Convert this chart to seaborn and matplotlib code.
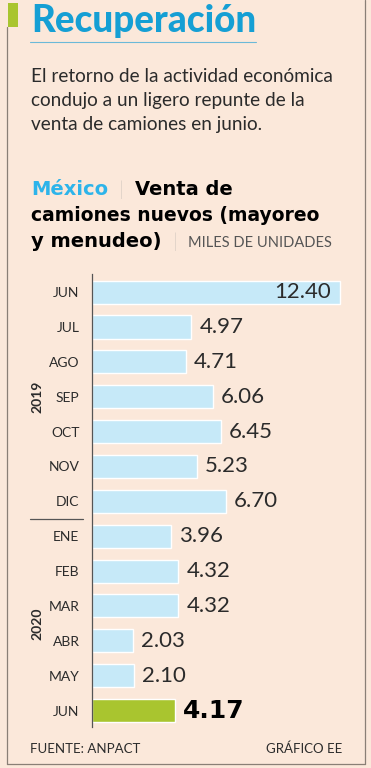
import pandas as pd
import seaborn as sns
import matplotlib.pyplot as plt
import matplotlib.transforms as mtransforms
from matplotlib.patches import Rectangle

# Data
months = ["JUN", "JUL", "AGO", "SEP", "OCT", "NOV", "DIC",
          "ENE", "FEB", "MAR", "ABR", "MAY", "JUN"]
years = ["2019"] * 7 + ["2020"] * 6
sales = [12.40, 4.97, 4.71, 6.06, 6.45, 5.23, 6.70,
         3.96, 4.32, 4.32, 2.03, 2.10, 4.17]
value_labels = ["12.40", "4.97", "4.71", "6.06", "6.45", "5.23", "6.70",
                "3.96", "4.32", "4.32", "2.03", "2.10", "4.17"]

BG = "#fbe8da"
BLUE_BAR = "#c6e9f8"
GREEN = "#a9c52f"
TITLE_BLUE = "#159fd4"
MEX_BLUE = "#2db4ea"
DARK = "#2b2b2b"
GRAY = "#555555"

sns.set_theme(style="white")
plt.rcParams["font.family"] = ["Lato", "DejaVu Sans"]

W, H = 371, 768
fig = plt.figure(figsize=(W / 100, H / 100), dpi=100, facecolor=BG)


def fx(x):
    return x / W


def fy(y):
    return 1 - y / H


# frame around the graphic
fig.add_artist(plt.Line2D([fx(7), fx(7)], [fy(27), fy(764)], color="#8a7f76", lw=0.9))
fig.add_artist(plt.Line2D([fx(365), fx(365)], [fy(0), fy(764)], color="#8a7f76", lw=0.9))
fig.add_artist(plt.Line2D([fx(7), fx(365)], [fy(764), fy(764)], color="#8a7f76", lw=0.9))
fig.add_artist(Rectangle((fx(8), fy(27)), fx(10), 24 / H, color=GREEN, lw=0))
fig.add_artist(plt.Line2D([fx(30), fx(256)], [fy(42), fy(42)], color="#6bb9d8", lw=0.8))

# headline and intro
fig.text(fx(31), fy(32), "Recuperación", fontsize=26.5, fontweight="black",
         color=TITLE_BLUE, va="baseline")
intro = ["El retorno de la actividad económica",
         "condujo a un ligero repunte de la",
         "venta de camiones en junio."]
for i, line in enumerate(intro):
    fig.text(fx(31), fy(82 + i * 24), line, fontsize=13.7, fontweight="normal",
             color=DARK, va="baseline")

renderer = fig.canvas.get_renderer()


def run(x, y, pieces):
    # place several styled pieces one after another on one line
    for txt, kw in pieces:
        t = fig.text(fx(x), fy(y), txt, va="baseline", **kw)
        x += t.get_window_extent(renderer).width


bold = dict(fontsize=13.5, fontweight="bold", color="black",
            family=["DejaVu Sans"])
sep = dict(fontsize=14, fontweight="light", color="#999999")
run(31, 195, [("México", dict(bold, color=MEX_BLUE, fontsize=14)), ("  |  ", sep),
              ("Venta de", dict(bold, fontsize=14))])
run(31, 221, [("camiones nuevos (mayoreo", bold)])
run(31, 247, [("y menudeo)", dict(bold, fontsize=14)), ("  |  ", sep),
              ("MILES DE UNIDADES", dict(fontsize=10.5, fontweight="normal", color=GRAY))])

# bar chart
df = pd.DataFrame({"key": [f"{m}-{y}" for m, y in zip(months, years)],
                   "ventas": sales})
colors = {k: BLUE_BAR for k in df["key"]}
colors[df["key"].iloc[-1]] = GREEN

ax = fig.add_axes([fx(92), fy(727), fx(360) - fx(92), (727 - 274) / H])
ax.set_facecolor("none")
sns.barplot(data=df, x="ventas", y="key", hue="key", palette=colors,
            width=0.66, legend=False, saturation=1, ax=ax)
ax.set_xlim(0, 13.4)
ax.set_ylim(12.47, -0.52)
ax.set_xlabel("")
ax.set_ylabel("")
ax.set_xticks([])
ax.set_yticks(range(len(months)))
ax.set_yticklabels(months, fontsize=10, fontweight="normal", color=DARK)
ax.tick_params(axis="y", length=0, pad=9)
for s in ["top", "right", "bottom"]:
    ax.spines[s].set_visible(False)
ax.spines["left"].set_color("#555555")
ax.spines["left"].set_linewidth(0.9)

for i, (v, lab) in enumerate(zip(sales, value_labels)):
    if i == 0:
        ax.text(v - 0.45, i, lab, ha="right", va="center", fontsize=16,
                fontweight="normal", color=DARK)
    elif i == len(sales) - 1:
        ax.text(v + 0.4, i, lab, ha="left", va="center", fontsize=18,
                fontweight="bold", color="black", family=["DejaVu Sans"])
    else:
        ax.text(v + 0.4, i, lab, ha="left", va="center", fontsize=16,
                fontweight="normal", color=DARK)

# year groups
trans = mtransforms.blended_transform_factory(fig.transFigure, ax.transData)
ax.plot([fx(30), fx(83)], [6.5, 6.5], color="#555555", lw=0.9,
        transform=trans, clip_on=False)
ax.text(fx(37), 3, "2019", rotation=90, ha="center", va="center", fontsize=10,
        fontweight="bold", color=DARK, transform=trans)
ax.text(fx(37), 9.5, "2020", rotation=90, ha="center", va="center", fontsize=10,
        fontweight="bold", color=DARK, transform=trans)

# footer
fig.text(fx(30), fy(753), "FUENTE: ANPACT", fontsize=9.5, fontweight="normal",
         color=DARK, va="baseline")
fig.text(fx(342), fy(753), "GRÁFICO EE", fontsize=9.5, fontweight="normal",
         color=DARK, va="baseline", ha="right")

fig.savefig("out.png", dpi=100, facecolor=BG)
